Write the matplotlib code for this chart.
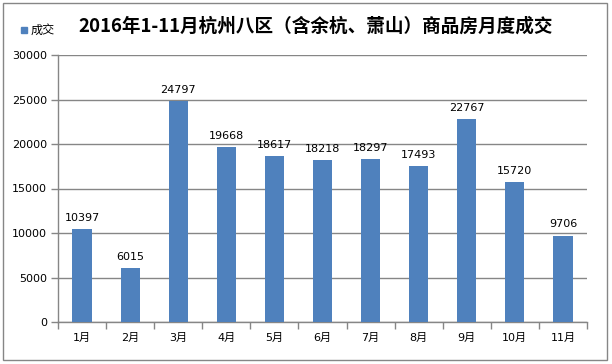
import matplotlib.pyplot as plt
import matplotlib.patches as mpatches

plt.rcParams['font.family'] = ['DejaVu Sans', 'Noto Sans CJK SC']

months = ["1月", "2月", "3月", "4月", "5月", "6月", "7月", "8月", "9月", "10月", "11月"]
deals = [10397, 6015, 24797, 19668, 18617, 18218, 18297, 17493, 22767, 15720, 9706]
title = "2016年1-11月杭州八区（含余杭、萧山）商品房月度成交"
bar_color = "#4F81BD"
grid_color = "#868686"

fig = plt.figure(figsize=(6.12, 3.64), dpi=100)
ax = fig.add_axes([58/612, 1 - 322/364, 529/612, 267/364])

x = list(range(len(months)))
ax.bar(x, deals, width=0.4, color=bar_color, zorder=3, label="成交")
for xi, v in zip(x, deals):
    ax.text(xi, v + 700, str(v), ha="center", va="bottom", fontsize=8, color="black")

ax.set_xlim(-0.5, len(months) - 0.5)
ax.set_ylim(0, 30000)
ax.set_yticks(range(0, 30001, 5000))
ax.set_xticks(x)
ax.set_xticklabels(months)
ax.set_xticks([i + 0.5 for i in range(-1, len(months))], minor=True)
ax.tick_params(axis="x", which="major", length=0, pad=8, labelsize=8)
ax.tick_params(axis="x", which="minor", length=5, color=grid_color, width=1)
ax.tick_params(axis="y", length=5, color=grid_color, width=1, pad=3, labelsize=8)

ax.grid(axis="y", color=grid_color, linewidth=1, zorder=0)
for side in ["top", "right"]:
    ax.spines[side].set_visible(False)
for side in ["left", "bottom"]:
    ax.spines[side].set_color(grid_color)
    ax.spines[side].set_linewidth(1)

fig.text(316/612, 1 - 26/364, title, ha="center", va="center",
         fontsize=13.4, fontweight="bold", family=['Noto Sans CJK SC', 'DejaVu Sans'])

# legend marker + label, top left
fig.patches.append(mpatches.Rectangle((21/612, 1 - 33/364), 6/612, 6/364,
                                      transform=fig.transFigure, color=bar_color))
fig.text(31/612, 1 - 30/364, "成交", ha="left", va="center", fontsize=8.7,
         family=['Noto Sans CJK SC', 'DejaVu Sans'])

# chart border
fig.patches.append(mpatches.Rectangle((3/612, 1 - 360/364), 604/612, 357/364,
                                      transform=fig.transFigure, fill=False,
                                      edgecolor=grid_color, linewidth=1))

fig.savefig("out.png", dpi=100)
